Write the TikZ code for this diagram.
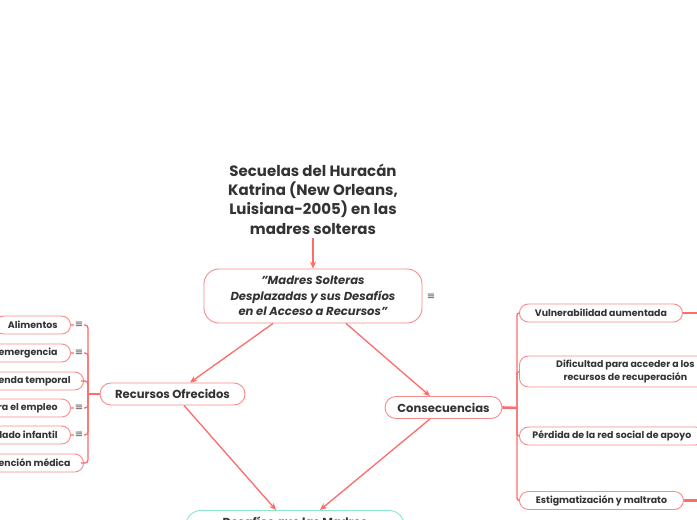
\documentclass[tikz,border=0pt]{standalone}
\usepackage{fontspec}
\setmainfont{Poppins}
\newfontfamily\symfont{DejaVu Sans}
\usetikzlibrary{arrows.meta}
\definecolor{lred}{HTML}{FF6B6B}
\definecolor{bred}{HTML}{F98A8A}
\definecolor{bgreen}{HTML}{8EE6C8}
\definecolor{txt}{HTML}{333333}
\tikzset{
  conn/.style={draw=lred, line width=1.3pt},
  arr/.style={draw=lred, line width=1.3pt, -{Stealth[length=7pt,width=6pt]}},
  stub/.style={draw=lred, line width=2.6pt},
  box/.style={draw=bred, line width=0.9pt, fill=white, text=txt, inner ysep=0pt},
  leaf/.style={box, rounded corners=9pt, minimum height=18, inner xsep=13pt, font=\bfseries\fontsize{9.4}{10}\selectfont},
  mid/.style={box, rounded corners=11pt, minimum height=22, font=\bfseries\fontsize{11.6}{12}\selectfont},
  menu/.style={fill=white, text=txt!85, inner sep=0.4pt, font=\symfont\fontsize{10}{10}\selectfont},
}
\begin{document}
\begin{tikzpicture}[x=1pt,y=-1pt]
\useasboundingbox (0,0) rectangle (697,520);
\clip (0,0) rectangle (697,520);
\fill[white] (0,0) rectangle (697,520);

% title
\node[text=txt, align=center, font=\bfseries\fontsize{15}{19.4}\selectfont] (title) at (313,199)
  {Secuelas del Huracán\\Katrina (New Orleans,\\Luisiana-2005) en las\\madres solteras};

% central
\node[box, rounded corners=15pt, minimum width=218, minimum height=54, align=center,
  font=\bfseries\itshape\fontsize{11.6}{15.5}\selectfont] (cen) at (313,296)
  {"Madres Solteras\\Desplazadas y sus Desafíos\\en el Acceso a Recursos"};
\node[menu] (m0) at (431,297) {≡};

% level 2
\node[mid, minimum width=145] (rec) at (172.5,394) {Recursos Ofrecidos};
\node[mid, minimum width=117] (cons) at (443.5,407.5) {Consecuencias};

% bottom
\node[box, draw=bgreen, rounded corners=15pt, minimum width=218, anchor=north,
  font=\bfseries\fontsize{11.6}{14}\selectfont, inner ysep=7pt, text height=9pt, text depth=44pt] (bot) at (295,510)
  {Desafíos que las Madres};

% left leaves
\node[leaf, anchor=east] (l1) at (71,325) {Alimentos};
\node[leaf, anchor=east] (l2) at (71,353) {Refugio de emergencia};
\node[leaf, anchor=east] (l3) at (84,381) {Vivienda temporal};
\node[leaf, anchor=east] (l4) at (71,408) {Ayuda para el empleo};
\node[leaf, anchor=east] (l5) at (71,435) {Cuidado infantil};
\node[leaf, anchor=east] (l6) at (84,463) {Atención médica};

% right leaves
\node[leaf, anchor=west, minimum width=163] (r1) at (519,313) {Vulnerabilidad aumentada};
\node[leaf, anchor=west, minimum width=212, minimum height=31, align=center,
  font=\bfseries\fontsize{9.4}{12.5}\selectfont] (r2) at (519,371.5)
  {Dificultad para acceder a los\\recursos de recuperación};
\node[leaf, anchor=west] (r3) at (519,436) {Pérdida de la red social de apoyo};
\node[leaf, anchor=west, minimum width=164] (r4) at (519,500.5) {Estigmatización y maltrato};

\coordinate (bl) at (88,394);
\coordinate (br) at (517,408);
\coordinate (o1) at (712,313);
\coordinate (o4) at (712,500.5);

% left bracket
\foreach \n/\y in {l1/325,l2/353,l3/381} {
  \draw[conn] (bl) -- (88,\y+7) .. controls (88,\y) .. (81,\y) -- (\n.east);
}
\foreach \n/\y in {l4/408,l5/435,l6/463} {
  \draw[conn] (bl) -- (88,\y-7) .. controls (88,\y) .. (81,\y) -- (\n.east);
}
\draw[stub] (rec.west) -- (bl);
% right bracket
\draw[conn] (br) -- (517,320) .. controls (517,313) .. (r1.west);
\draw[conn] (br) -- (517,380) .. controls (517,371.5) .. (r2.west);
\draw[conn] (br) -- (517,428) .. controls (517,436) .. (r3.west);
\draw[conn] (br) -- (517,492) .. controls (517,500.5) .. (r4.west);
\draw[stub] (cons.east) -- (br);
\draw[stub] (r1.east) -- (o1);
\draw[stub] (r4.east) -- (o4);

\node[menu] (m1) at (79,325) {≡};
\node[menu] (m2) at (79,353) {≡};
\node[menu] (m4) at (79,408) {≡};
\node[menu] (m5) at (79,435) {≡};

% arrows
\draw[arr] (title.south) -- (cen.north);
\draw[arr] ([xshift=-40]cen.south) -- ([xshift=17.5]rec.north);
\draw[arr] ([xshift=33]cen.south) -- ([xshift=-13.5]cons.north);
\draw[arr] ([xshift=11.5]rec.south) -- ([xshift=-19]bot.north);
\draw[arr] ([xshift=-13.5]cons.south) -- ([xshift=25]bot.north);
\end{tikzpicture}
\end{document}
